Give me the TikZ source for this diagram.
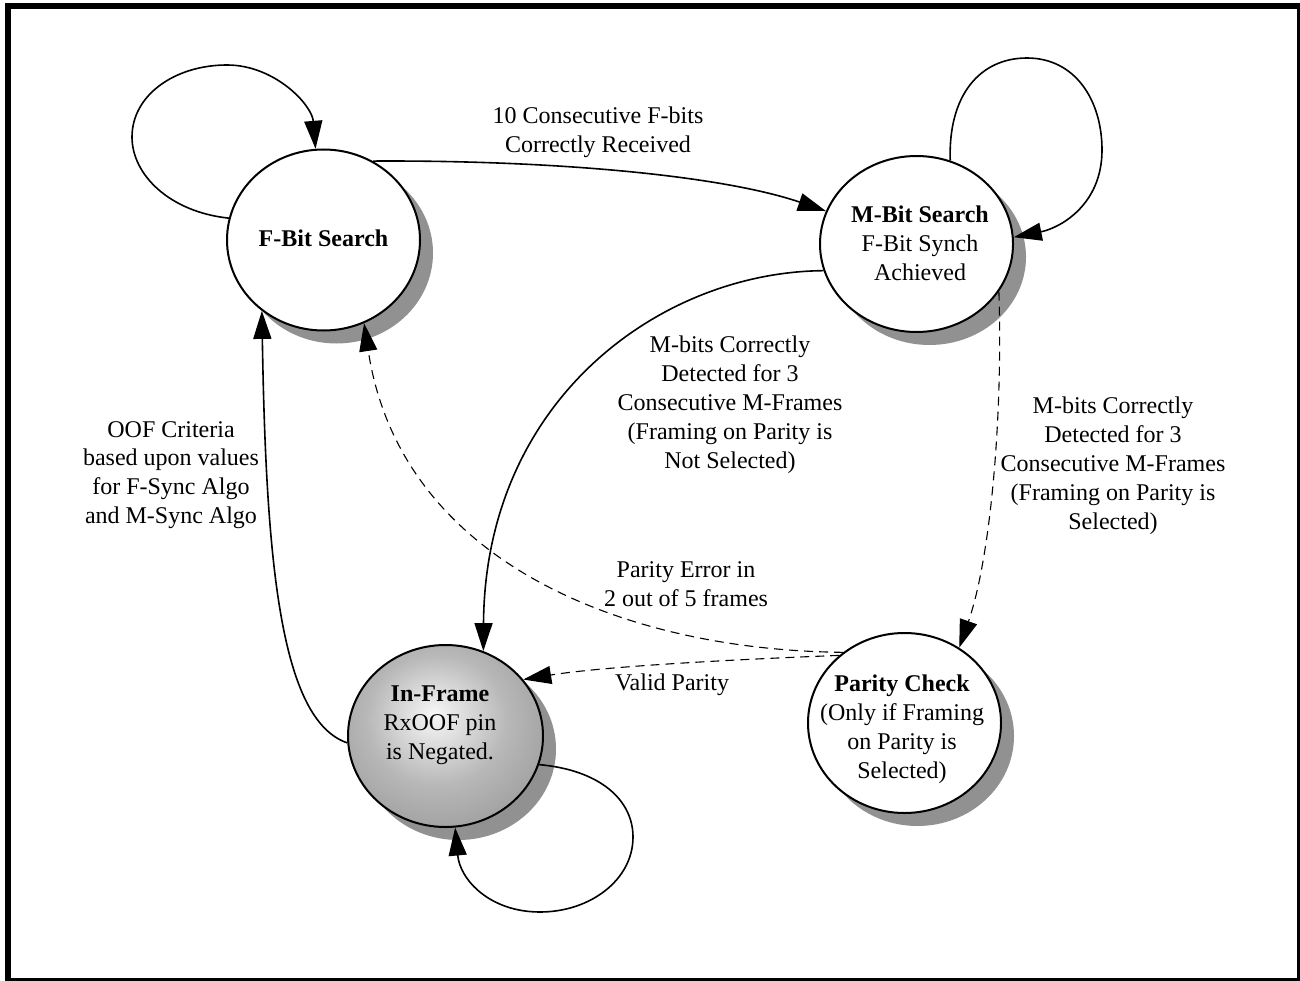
\documentclass[tikz,border=0pt]{standalone}
\usepackage{fontspec}
\setmainfont{Liberation Serif}
\usetikzlibrary{arrows.meta,shapes.geometric}
\definecolor{shadowgray}{RGB}{145,145,145}
\pgfdeclareradialshading{ballshade}{\pgfpoint{-3bp}{6bp}}{color(0bp)=(white!97!black); color(18bp)=(black!28); color(50bp)=(black!52); color(70bp)=(black!52)}
\begin{document}
\begin{tikzpicture}[x=1pt,y=-1pt,
  state/.style={ellipse, draw, line width=2pt, fill=white, inner sep=0pt},
  shadowbox/.style={ellipse, fill=shadowgray, inner sep=0pt},
  lbl/.style={align=center, font=\fontsize{24}{28.9}\selectfont, inner sep=0pt},
  conn/.style={line width=1.6pt, -{Triangle[length=28pt,width=18pt]}},
  dconn/.style={line width=1.1pt, dash pattern=on 9pt off 6pt, -{Triangle[length=28pt,width=18pt]}},
]
\useasboundingbox (0,0) rectangle (1300,981);
\draw[line width=6pt] (8,6) rectangle (1300,981);

% shadows
\node[shadowbox, minimum width=193pt, minimum height=181pt] (fbitS) at (336.5,253) {};
\node[shadowbox, minimum width=193pt, minimum height=176pt] (mbitS) at (929.5,257) {};
\node[shadowbox, minimum width=195pt, minimum height=182pt] (inframeS) at (458.5,749) {};
\node[shadowbox, minimum width=193pt, minimum height=180pt] (parityS) at (917.5,736) {};

% states
\node[state, minimum width=193pt, minimum height=181pt] (fbit) at (323.5,240) {};
\node[state, minimum width=193pt, minimum height=176pt] (mbit) at (916.5,244) {};
\node[state, shading=ballshade, minimum width=195pt, minimum height=182pt] (inframe) at (445.5,736) {};
\node[state, minimum width=193pt, minimum height=180pt] (parity) at (904.5,723) {};

% state texts
\node[lbl] (fbitT) at (323.5,238) {\textbf{F-Bit Search}};
\node[lbl] (mbitT) at (920,243.5) {\textbf{M-Bit Search}\\F-Bit Synch\\Achieved};
\node[lbl] (inframeT) at (440,725.5) {\textbf{In-Frame}\\RxOOF pin\\is Negated.};
\node[lbl] (parityT) at (902,729) {\textbf{Parity Check}\\(Only if Framing\\on Parity is\\Selected)};

% connectors
\draw[conn] (fbit.167) .. controls (170,212) and (132,175) .. (132,137)
  .. controls (132,95) and (175,65) .. (227,65)
  .. controls (275,65) and (312,105) .. (fbit.95);
\draw[conn] (fbit.58) .. controls (550,160) and (720,175) .. (mbit.160);
\draw[conn] (mbit.68) .. controls (948,95) and (980,58) .. (1027,58)
  .. controls (1075,58) and (1102,100) .. (1102,150)
  .. controls (1102,205) and (1060,228) .. (mbit.4);
\draw[conn] (mbit.196) .. controls (660,272) and (485,400) .. (inframe.66);
\draw[dconn] (mbit.330) .. controls (1003,420) and (990,560) .. (parity.54);
\draw[dconn] (parity.131) .. controls (620,650) and (400,560) .. (fbit.296);
\draw[dconn] (parity.134) .. controls (720,660) and (600,667) .. (inframe.36);
\draw[conn] (inframe.184) .. controls (280,720) and (266,560) .. (fbit.229);
\draw[conn] (inframe.343) .. controls (600,770) and (633,800) .. (633,837)
  .. controls (633,880) and (590,912) .. (540,912)
  .. controls (490,912) and (460,880) .. (inframe.276);

% labels
\node[lbl] (l1) at (598,132) {10 Consecutive F-bits\\Correctly Received};
\node[lbl] (l2) at (730,405) {M-bits Correctly\\Detected for 3\\Consecutive M-Frames\\(Framing on Parity is\\Not Selected)};
\node[lbl] (l3) at (1113,466) {M-bits Correctly\\Detected for 3\\Consecutive M-Frames\\(Framing on Parity is\\Selected)};
\node[lbl] (l4) at (686,584) {Parity Error in\\2 out of 5 frames};
\node[lbl] (l5) at (672,685) {Valid Parity};
\node[lbl] (l6) at (171,475) {OOF Criteria\\based upon values\\for F-Sync Algo\\and M-Sync Algo};
\end{tikzpicture}
\end{document}
